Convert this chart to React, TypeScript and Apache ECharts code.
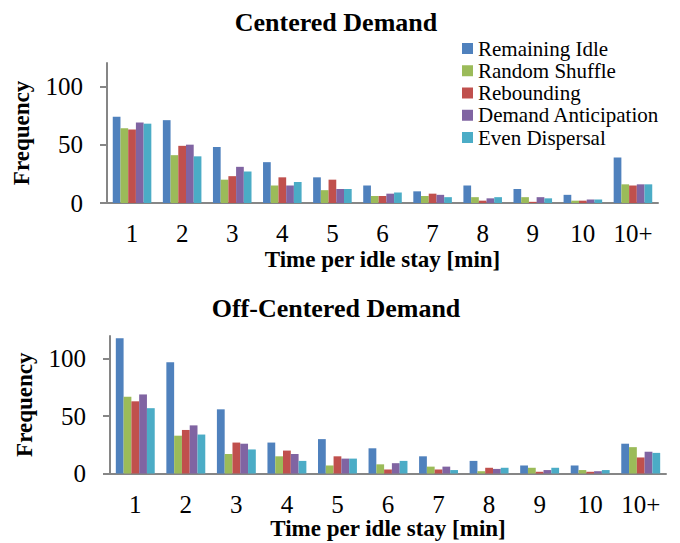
import React, { useEffect, useRef } from "react";
import * as echarts from "echarts";

const categories = ["1", "2", "3", "4", "5", "6", "7", "8", "9", "10", "10+"];
const seriesNames = ["Remaining Idle", "Random Shuffle", "Rebounding", "Demand Anticipation", "Even Dispersal"];
const colors = ["#4F81BD", "#9BBB59", "#C0504D", "#8064A2", "#4BACC6"];

const centeredRemaining = [74, 71, 48, 35, 22, 15, 10, 15, 12, 7, 39];
const centeredShuffle = [64, 41, 20, 15, 11, 6, 6, 5, 5, 2, 16];
const centeredRebound = [63, 49, 23, 22, 20, 6, 8, 2, 1, 2, 15];
const centeredAnticipation = [69, 50, 31, 15, 12, 8, 7, 4, 5, 3, 16];
const centeredDispersal = [68, 40, 27, 18, 12, 9, 5, 5, 4, 3, 16];

const offRemaining = [118, 97, 56, 27, 30, 22, 15, 11, 7, 7, 26];
const offShuffle = [67, 33, 17, 15, 7, 8, 6, 2, 5, 3, 23];
const offRebound = [63, 38, 27, 20, 15, 3.5, 3.5, 5, 1.5, 1.5, 14];
const offAnticipation = [69, 42, 26, 17, 13, 9, 6, 4, 3, 2, 19];
const offDispersal = [57, 34, 21, 11, 13, 11, 3, 5, 5, 3, 18];

const yTicks = [0, 50, 100];
const yMax = 120;

const centeredData = [centeredRemaining, centeredShuffle, centeredRebound, centeredAnticipation, centeredDispersal];
const offData = [offRemaining, offShuffle, offRebound, offAnticipation, offDispersal];

const FONT = "Liberation Serif";
const AXIS_COLOR = "#868686";

function makeXAxis(gridIndex: number, nameGap: number) {
  return {
    type: "category",
    gridIndex,
    data: categories,
    boundaryGap: true,
    axisLine: { lineStyle: { color: AXIS_COLOR, width: 2 } },
    axisTick: { length: 7, lineStyle: { color: AXIS_COLOR, width: 2 } },
    axisLabel: { color: "#000", fontFamily: FONT, fontSize: 25, margin: 18, interval: 0 },
    name: "Time per idle stay [min]",
    nameLocation: "middle",
    nameGap,
    nameTextStyle: { color: "#000", fontFamily: FONT, fontSize: 23, fontWeight: "bold" },
  };
}

function makeYAxis(gridIndex: number) {
  return {
    type: "value",
    gridIndex,
    min: 0,
    max: yMax,
    interval: 50,
    splitLine: { show: false },
    axisLine: { show: true, lineStyle: { color: AXIS_COLOR, width: 2 } },
    axisTick: { show: true, length: 7, lineStyle: { color: AXIS_COLOR, width: 2 }, customValues: yTicks },
    axisLabel: { color: "#000", fontFamily: FONT, fontSize: 25, margin: 24, customValues: yTicks },
    name: "Frequency",
    nameLocation: "middle",
    nameRotate: 90,
    nameGap: 74,
    nameTextStyle: { color: "#000", fontFamily: FONT, fontSize: 23, fontWeight: "bold" },
  };
}

export default function App() {
  const ref = useRef<HTMLDivElement>(null);
  useEffect(() => {
    if (!ref.current) return;
    const chart = echarts.init(ref.current, null, { renderer: "svg" });
    const series: any[] = [];
    seriesNames.forEach((name, i) => {
      series.push({
        name,
        type: "bar",
        xAxisIndex: 0,
        yAxisIndex: 0,
        data: centeredData[i],
        barGap: "0%",
        barCategoryGap: "23%",
        itemStyle: { color: colors[i] },
      });
    });
    seriesNames.forEach((name, i) => {
      series.push({
        name,
        type: "bar",
        xAxisIndex: 1,
        yAxisIndex: 1,
        data: offData[i],
        barGap: "0%",
        barCategoryGap: "23%",
        itemStyle: { color: colors[i] },
      });
    });
    chart.setOption({
      animation: false,
      backgroundColor: "#fff",
      textStyle: { fontFamily: FONT },
      grid: [
        { left: 107, top: 63, width: 551, height: 140 },
        { left: 110, top: 336, width: 556, height: 137.5 },
      ],
      xAxis: [makeXAxis(0, 45), makeXAxis(1, 42)],
      yAxis: [makeYAxis(0), makeYAxis(1)],
      legend: {
        orient: "vertical",
        left: 457,
        top: 33,
        padding: 5,
        itemWidth: 11,
        itemHeight: 11,
        itemGap: 1.25,
        icon: "rect",
        data: seriesNames,
        textStyle: { color: "#000", fontFamily: FONT, fontSize: 21, lineHeight: 20 },
      },
      graphic: [
        {
          type: "text",
          x: 336,
          y: 22,
          style: {
            text: "Centered Demand",
            fontFamily: FONT,
            fontSize: 26,
            fontWeight: "bold",
            fill: "#000",
            align: "center",
            verticalAlign: "middle",
          },
        },
        {
          type: "text",
          x: 336,
          y: 308,
          style: {
            text: "Off-Centered Demand",
            fontFamily: FONT,
            fontSize: 26,
            fontWeight: "bold",
            fill: "#000",
            align: "center",
            verticalAlign: "middle",
          },
        },
      ],
      series,
    });
    return () => chart.dispose();
  }, []);
  return <div ref={ref} style={{ position: "fixed", left: 0, top: 0, width: 680, height: 543 }} />;
}
